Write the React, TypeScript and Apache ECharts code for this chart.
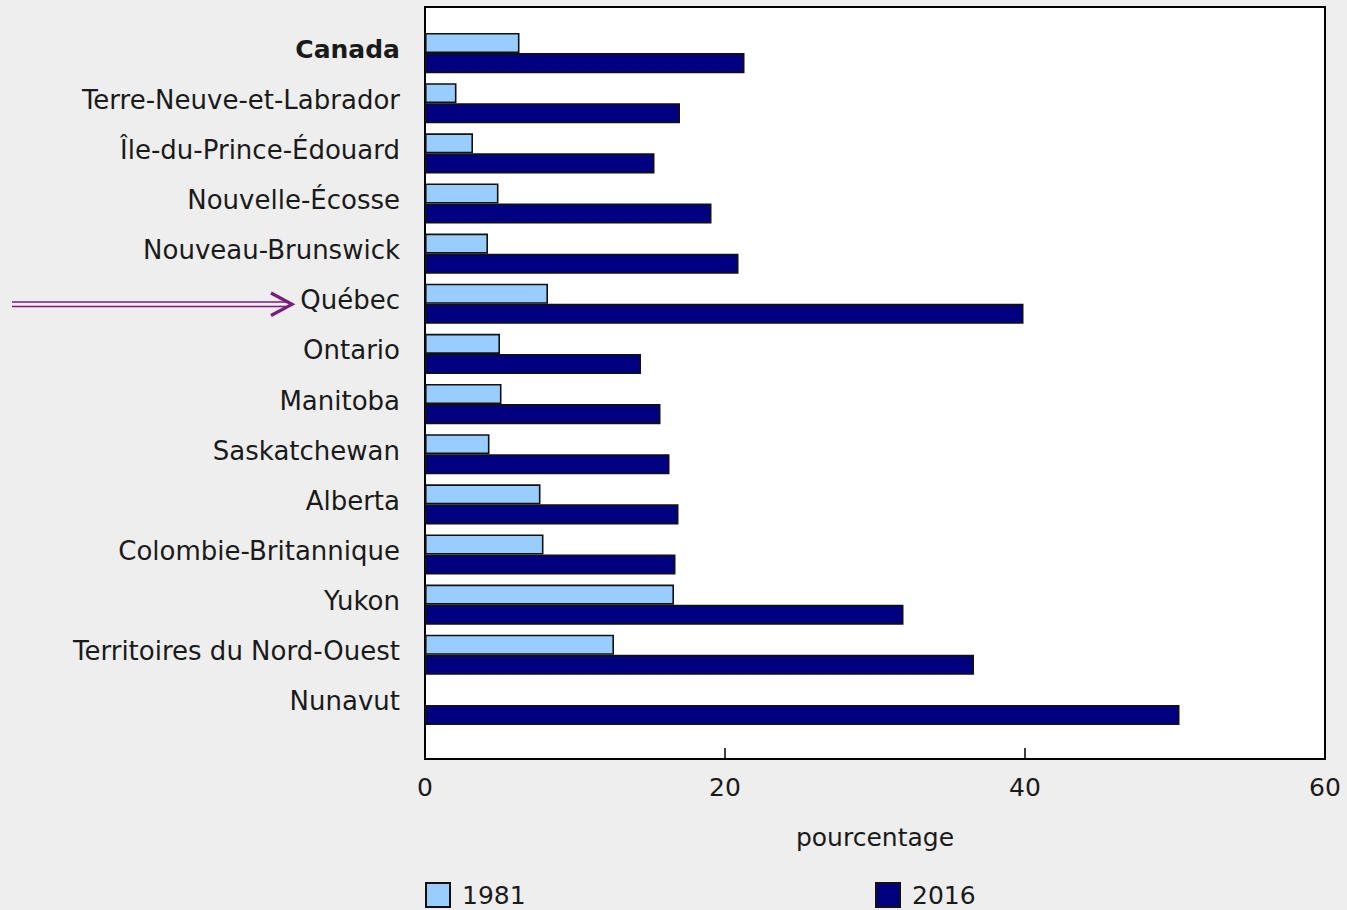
import React, { useEffect, useRef } from "react";
import * as echarts from "echarts";

const categories = [
  "Canada",
  "Terre-Neuve-et-Labrador",
  "Île-du-Prince-Édouard",
  "Nouvelle-Écosse",
  "Nouveau-Brunswick",
  "Québec",
  "Ontario",
  "Manitoba",
  "Saskatchewan",
  "Alberta",
  "Colombie-Britannique",
  "Yukon",
  "Territoires du Nord-Ouest",
  "Nunavut",
];

const values1981: (number | null)[] = [6.3, 2.1, 3.2, 4.9, 4.2, 8.2, 5.0, 5.1, 4.3, 7.7, 7.9, 16.6, 12.6, null];
const values2016: number[] = [21.3, 17.0, 15.3, 19.1, 20.9, 39.9, 14.4, 15.7, 16.3, 16.9, 16.7, 31.9, 36.6, 50.3];

const xTicks = [0, 20, 40, 60];
const seriesNames = ["1981", "2016"];
const axisTitle = "pourcentage";

const FONT = "DejaVu Sans";
const LIGHT = "#99ccff";
const DARK = "#000080";
const PURPLE = "#7a1b7e";

export default function App() {
  const ref = useRef<HTMLDivElement>(null);

  useEffect(() => {
    if (!ref.current) return;
    const chart = echarts.init(ref.current, undefined, { renderer: "svg" });
    const legendBase = {
      top: 880,
      padding: 0,
      itemWidth: 24,
      itemHeight: 24,
      icon: "rect",
      textStyle: { fontSize: 25, lineHeight: 30, color: "#1a1a1a", fontFamily: FONT, padding: [0, 0, 0, 7] },
    };
    const option: any = {
      animation: false,
      backgroundColor: "#eeeeee",
      textStyle: { fontFamily: FONT },
      grid: [
        {
          left: 425,
          top: 7,
          width: 900,
          height: 752,
          show: true,
          backgroundColor: "#ffffff",
          borderColor: "#000000",
          borderWidth: 2,
        },
        {
          left: 425,
          top: 28,
          width: 900,
          height: 702,
        },
      ],
      xAxis: [
        {
          type: "value",
          gridIndex: 0,
          min: xTicks[0],
          max: xTicks[xTicks.length - 1],
          interval: 20,
          axisLine: { show: false },
          axisTick: { show: true, inside: true, length: 11, lineStyle: { color: "#000", width: 1.5 } },
          splitLine: { show: false },
          axisLabel: { fontSize: 25, color: "#1a1a1a", margin: 16, fontFamily: FONT },
          name: axisTitle,
          nameLocation: "middle",
          nameGap: 66,
          nameTextStyle: { fontSize: 25, color: "#1a1a1a", fontFamily: FONT },
        },
        {
          type: "value",
          gridIndex: 1,
          min: xTicks[0],
          max: xTicks[xTicks.length - 1],
          show: false,
        },
      ],
      yAxis: [
        { type: "value", gridIndex: 0, show: false },
        {
          type: "category",
          gridIndex: 1,
          inverse: true,
          data: categories,
          axisLine: { show: false },
          axisTick: { show: false },
          axisLabel: {
            fontSize: 26,
            color: "#1a1a1a",
            margin: 25,
            fontFamily: FONT,
            padding: [0, 0, 7, 0],
            formatter: (v: string, i: number) => (i === 0 ? `{b|${v}}` : v),
            rich: {
              b: { fontSize: 25, fontWeight: "bold", color: "#1a1a1a", fontFamily: FONT },
            },
          },
        },
      ],
      legend: [
        { ...legendBase, data: [seriesNames[0]], left: 425 },
        { ...legendBase, data: [seriesNames[1]], left: 875 },
      ],
      series: [
        {
          name: seriesNames[0],
          type: "bar",
          xAxisIndex: 1,
          yAxisIndex: 1,
          data: values1981.map((v) => (v === null ? "-" : v)),
          barGap: "0%",
          barCategoryGap: "20%",
          itemStyle: { color: LIGHT, borderColor: "#111111", borderWidth: 1.6 },
        },
        {
          name: seriesNames[1],
          type: "bar",
          xAxisIndex: 1,
          yAxisIndex: 1,
          data: values2016,
          barGap: "0%",
          barCategoryGap: "20%",
          itemStyle: { color: DARK, borderColor: "#111111", borderWidth: 1.6 },
        },
      ],
      graphic: [
        {
          type: "group",
          silent: true,
          children: [
            { type: "line", shape: { x1: 12, y1: 302, x2: 288, y2: 302 }, style: { stroke: PURPLE, lineWidth: 1.6 } },
            { type: "line", shape: { x1: 12, y1: 306.5, x2: 288, y2: 306.5 }, style: { stroke: PURPLE, lineWidth: 1.6 } },
            {
              type: "polyline",
              shape: { points: [[271, 293], [292, 304.3], [271, 315.5]] },
              style: { stroke: PURPLE, lineWidth: 3.2, fill: "none" },
            },
          ],
        },
      ],
    };
    chart.setOption(option);
    return () => chart.dispose();
  }, []);

  return (
    <div
      ref={ref}
      style={{ position: "fixed", left: 0, top: 0, width: 1347, height: 910 }}
    />
  );
}
